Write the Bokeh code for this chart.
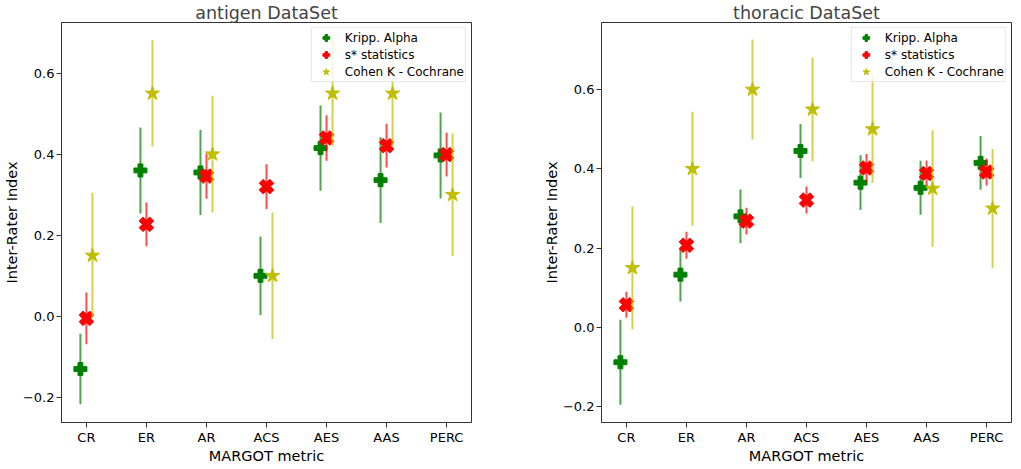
import math
from bokeh.plotting import figure
from bokeh.models import ColumnDataSource, FactorRange, Range1d, FixedTicker
from bokeh.transform import dodge
from bokeh.layouts import row
from bokeh.embed import file_html
from bokeh.resources import INLINE

# ---------------- data ----------------
categories = ["CR", "ER", "AR", "ACS", "AES", "AAS", "PERC"]
series_names = ["Kripp. Alpha", "s* statistics", "Cohen K - Cochrane"]
y_ticks = [-0.2, 0.0, 0.2, 0.4, 0.6]
y_tick_labels = ["\u22120.2", "0.0", "0.2", "0.4", "0.6"]

antigen_kripp = [-0.13, 0.36, 0.355, 0.10, 0.415, 0.336, 0.397]
antigen_kripp_err = [0.087, 0.106, 0.105, 0.097, 0.105, 0.106, 0.106]
antigen_sstar = [-0.005, 0.227, 0.346, 0.320, 0.440, 0.421, 0.399]
antigen_sstar_err = [0.064, 0.054, 0.056, 0.055, 0.056, 0.054, 0.054]
antigen_cohen = [0.15, 0.55, 0.40, 0.10, 0.55, 0.55, 0.30]
antigen_cohen_err = [0.155, 0.131, 0.144, 0.156, 0.131, 0.131, 0.151]

thoracic_kripp = [-0.088, 0.133, 0.280, 0.445, 0.365, 0.352, 0.415]
thoracic_kripp_err = [0.107, 0.068, 0.068, 0.068, 0.069, 0.068, 0.068]
thoracic_sstar = [0.057, 0.207, 0.268, 0.321, 0.402, 0.388, 0.392]
thoracic_sstar_err = [0.033, 0.034, 0.034, 0.034, 0.035, 0.033, 0.034]
thoracic_cohen = [0.15, 0.40, 0.60, 0.55, 0.50, 0.35, 0.30]
thoracic_cohen_err = [0.155, 0.144, 0.126, 0.131, 0.136, 0.147, 0.150]

COLORS = ["#008000", "#ff0000", "#bfbf00"]
MARKERS = ["plus", "plus", "star"]
ANGLES = [0.0, math.pi / 4, 0.0]
SIZES = [13, 15, 15]
OFFSETS = [-0.1, 0.0, 0.1]
FONT = "DejaVu Sans"


def make_panel(title, series, y_start, y_end, b_left, b_right, fw):
    p = figure(
        x_range=FactorRange(factors=categories, range_padding=-0.085,
                            range_padding_units="absolute"),
        y_range=Range1d(y_start, y_end),
        frame_width=fw, frame_height=400,
        min_border_left=b_left, min_border_right=b_right,
        min_border_top=0, min_border_bottom=0,
        output_backend="svg", toolbar_location=None,
        background_fill_color="white", border_fill_color="white",
    )
    p.title.text = title
    p.title.text_font = FONT
    p.title.text_font_size = "17.5px"
    p.title.text_font_style = "normal"
    p.title.align = "center"
    p.title.standoff = 0

    for name, (vals, errs), color, marker, ang, size, off in zip(
            series_names, series, COLORS, MARKERS, ANGLES, SIZES, OFFSETS):
        src = ColumnDataSource(dict(
            cat=categories, val=vals,
            lo=[v - e for v, e in zip(vals, errs)],
            hi=[v + e for v, e in zip(vals, errs)],
        ))
        xd = dodge("cat", off, range=p.x_range)
        p.segment(x0=xd, y0="lo", x1=xd, y1="hi", source=src,
                  line_color=color, line_alpha=0.7, line_width=2)
        p.scatter(x=xd, y="val", source=src, marker=marker, size=size,
                  angle=ang, fill_color=color, line_color=color,
                  legend_label=name)

    p.xgrid.visible = False
    p.ygrid.visible = False
    p.outline_line_color = "#333333"
    p.outline_line_width = 1

    p.yaxis.ticker = FixedTicker(ticks=y_ticks)
    p.yaxis.major_label_overrides = dict(zip(y_ticks, y_tick_labels))
    for ax in (p.xaxis[0], p.yaxis[0]):
        ax.axis_line_color = "#333333"
        ax.major_tick_line_color = "#333333"
        ax.major_tick_out = 5
        ax.major_tick_in = 0
        ax.minor_tick_line_color = None
        ax.major_label_text_font = FONT
        ax.major_label_text_font_size = "13px"
        ax.major_label_text_color = "black"
        ax.major_label_standoff = 2
        ax.axis_label_text_font = FONT
        ax.axis_label_text_font_size = "14.5px"
        ax.axis_label_text_font_style = "normal"
        ax.axis_label_text_color = "black"
        ax.axis_label_standoff = 0
    p.xaxis.axis_label = "MARGOT metric"
    p.yaxis.axis_label = "Inter-Rater Index"

    lg = p.legend[0]
    lg.location = "top_right"
    lg.margin = 5
    lg.padding = 1
    lg.spacing = 0
    lg.glyph_height = 17
    lg.glyph_width = 26
    lg.label_height = 12
    lg.label_standoff = 6
    lg.label_text_font = FONT
    lg.label_text_font_size = "12px"
    lg.label_text_color = "black"
    lg.border_line_color = "#d0d0d0"
    lg.background_fill_alpha = 0.8
    return p


left = make_panel(
    "antigen DataSet",
    [(antigen_kripp, antigen_kripp_err), (antigen_sstar, antigen_sstar_err),
     (antigen_cohen, antigen_cohen_err)],
    -0.262, 0.725, 54, 36, 410)
right = make_panel(
    "thoracic DataSet",
    [(thoracic_kripp, thoracic_kripp_err), (thoracic_sstar, thoracic_sstar_err),
     (thoracic_cohen, thoracic_cohen_err)],
    -0.240, 0.769, 94, 2, 410)

layout = row(left, right)
open("out.html", "w").write(file_html(layout, INLINE))
